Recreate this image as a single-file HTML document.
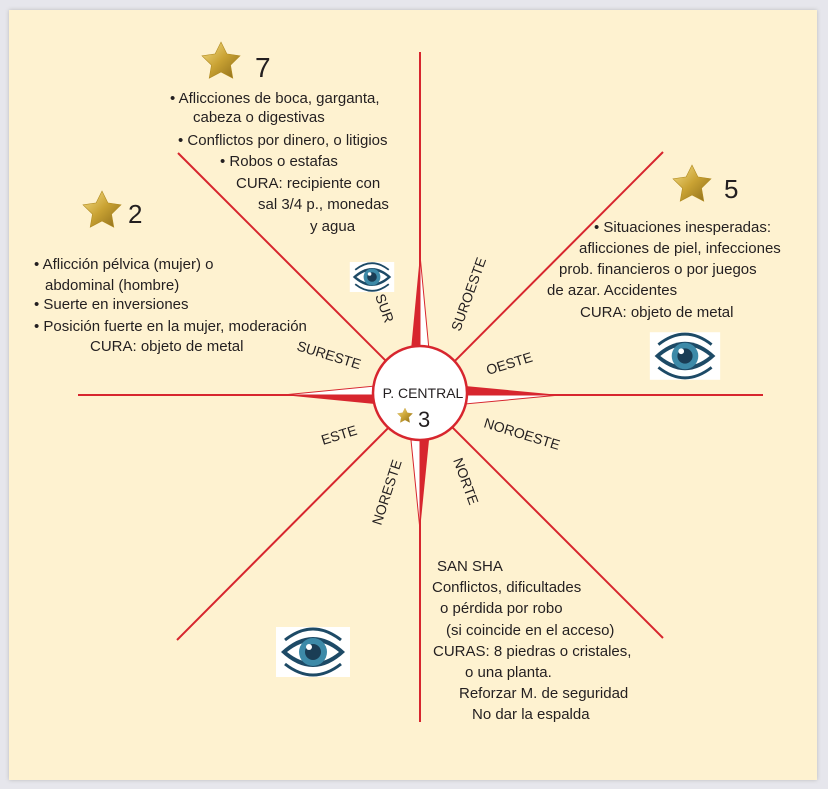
<!DOCTYPE html>
<html><head><meta charset="utf-8"><style>
html,body{margin:0;padding:0;background:#e6e6ec;}
body{width:828px;height:789px;overflow:hidden;position:relative;font-family:"Liberation Sans",sans-serif;}
.panel{position:absolute;left:9px;top:10px;width:808px;height:770px;background:#fef2d0;box-shadow:0 0 4px #bbb;}
svg{position:absolute;left:0;top:0;}
text{font-family:"Liberation Sans",sans-serif;fill:#231f20;}
</style></head><body>
<div class="panel"></div>
<svg width="828" height="789" viewBox="0 0 828 789">
<defs>
<linearGradient id="g" x1="0" y1="0" x2="1" y2="1"><stop offset="0" stop-color="#f7e08a"/><stop offset="0.5" stop-color="#c9a233"/><stop offset="1" stop-color="#8a6a18"/></linearGradient>
<g id="star"><polygon points="0,-20 5.9,-8.1 19,-6.2 9.5,3.1 11.8,16.2 0,10 -11.8,16.2 -9.5,3.1 -19,-6.2 -5.9,-8.1" fill="url(#g)" stroke="#b08a20" stroke-width="0.6"/></g>
<g id="eye">
<rect x="-37" y="-25" width="74" height="50" fill="#fff"/>
<path d="M-32,0 Q0,-30 32,0 Q0,30 -32,0Z" fill="#1d4a66"/>
<path d="M-26,0 Q0,-21 26,0 Q0,21 -26,0Z" fill="#fff"/>
<circle r="14" fill="#3d8aa8"/><circle r="8" fill="#1a3d55"/><circle cx="-4" cy="-5" r="3" fill="#fff"/>
<path d="M-28,-12 Q0,-34 28,-12" stroke="#1d4a66" stroke-width="3" fill="none"/>
<path d="M-28,12 Q0,34 28,12" stroke="#1d4a66" stroke-width="3" fill="none"/>
</g>
</defs>
<g stroke="#d7262e" stroke-width="2">
<line x1="420" y1="52" x2="420" y2="722"/>
<line x1="78" y1="395" x2="763" y2="395"/>
<line x1="178" y1="153" x2="663" y2="638"/>
<line x1="663" y1="152" x2="177" y2="640"/>
</g>
<!-- spikes -->
<g>
<polygon points="420,255 411,350 420,350" fill="#d7262e"/><polygon points="420,255 429,350 420,350" fill="#fff" stroke="#d7262e" stroke-width="1"/>
<polygon points="420,530 411,440 420,440" fill="#fff" stroke="#d7262e" stroke-width="1"/><polygon points="420,530 429,440 420,440" fill="#d7262e"/>
<polygon points="283,395 375,386 375,395" fill="#fff" stroke="#d7262e" stroke-width="1"/><polygon points="283,395 375,404 375,395" fill="#d7262e"/>
<polygon points="560,395 465,386 465,395" fill="#d7262e"/><polygon points="560,395 465,404 465,395" fill="#fff" stroke="#d7262e" stroke-width="1"/>
</g>
<circle cx="420" cy="393" r="47" fill="#fff" stroke="#d7262e" stroke-width="2.5"/>
<text x="423" y="398" font-size="14" text-anchor="middle">P. CENTRAL</text>
<use href="#star" transform="translate(405,416) scale(0.4)"/>
<text x="418" y="427" font-size="22">3</text>
<g font-size="14">
<text transform="translate(375,296) rotate(70)">SUR</text>
<text transform="translate(460,332) rotate(-70)">SUROESTE</text>
<text transform="translate(296,350) rotate(17)">SURESTE</text>
<text transform="translate(488,375) rotate(-17)">OESTE</text>
<text transform="translate(323,445) rotate(-17)">ESTE</text>
<text transform="translate(483,427) rotate(17)">NOROESTE</text>
<text transform="translate(381,526) rotate(-72)">NORESTE</text>
<text transform="translate(453,460) rotate(70)">NORTE</text>
</g>
<use href="#star" transform="translate(221,62)"/>
<text x="255" y="77" font-size="28">7</text>
<use href="#star" transform="translate(102,211)"/>
<text x="128" y="223" font-size="26">2</text>
<use href="#star" transform="translate(692,185)"/>
<text x="724" y="198" font-size="26">5</text>
<use href="#eye" transform="translate(372,277) scale(0.6)"/>
<use href="#eye" transform="translate(685,356) scale(0.95)"/>
<use href="#eye" transform="translate(313,652)"/>
<g font-size="15">
<text x="170" y="103">• Aflicciones de boca, garganta,</text>
<text x="193" y="122">cabeza o digestivas</text>
<text x="178" y="145">• Conflictos por dinero, o litigios</text>
<text x="220" y="166">• Robos o estafas</text>
<text x="236" y="188">CURA: recipiente con</text>
<text x="258" y="209">sal 3/4 p., monedas</text>
<text x="310" y="231">y agua</text>
<text x="34" y="269">• Aflicción pélvica (mujer) o</text>
<text x="45" y="290">abdominal (hombre)</text>
<text x="34" y="309">• Suerte en inversiones</text>
<text x="34" y="331">• Posición fuerte en la mujer, moderación</text>
<text x="90" y="351">CURA: objeto de metal</text>
<text x="594" y="232">• Situaciones inesperadas:</text>
<text x="579" y="253">aflicciones de piel, infecciones</text>
<text x="559" y="274">prob. financieros o por juegos</text>
<text x="547" y="295">de azar. Accidentes</text>
<text x="580" y="317">CURA: objeto de metal</text>
<text x="437" y="571">SAN SHA</text>
<text x="432" y="592">Conflictos, dificultades</text>
<text x="440" y="613">o pérdida por robo</text>
<text x="446" y="635">(si coincide en el acceso)</text>
<text x="433" y="656">CURAS: 8 piedras o cristales,</text>
<text x="465" y="677">o una planta.</text>
<text x="459" y="698">Reforzar M. de seguridad</text>
<text x="472" y="719">No dar la espalda</text>
</g>
</svg>
</body></html>
